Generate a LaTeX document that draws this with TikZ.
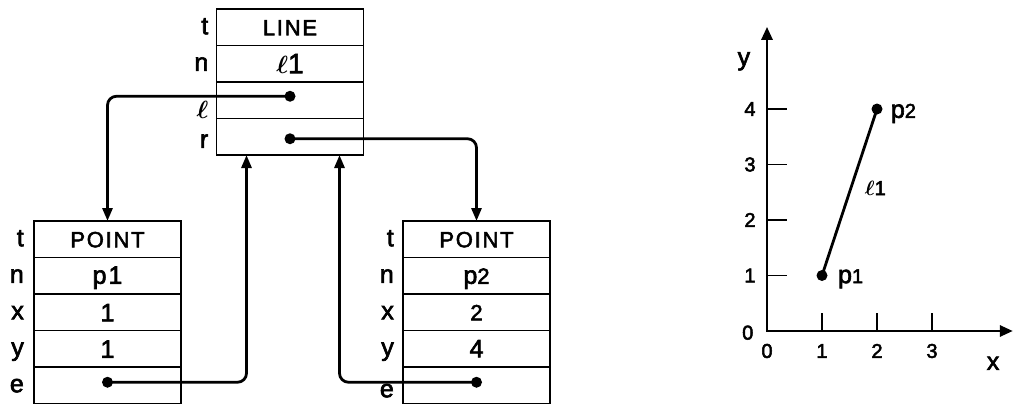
\documentclass[tikz,border=0pt]{standalone}
\usepackage{bm}
\usepackage{fontspec}
\setsansfont{Liberation Sans}[LetterSpace=8, FakeBold=2.5]
\usetikzlibrary{arrows.meta,positioning}

% sizes of the lettering: capitals, tall lower-case letters, the tallest strokes
\newcommand{\uc}{\fontsize{22}{24}\selectfont}
\newcommand{\lc}{\fontsize{25}{27}\selectfont}
\newcommand{\xl}{\fontsize{28}{30}\selectfont}

\begin{document}
\begin{tikzpicture}[
    x=1pt, y=-1pt,
    every node/.style={font=\sffamily\uc},
    cell/.style={draw, line width=1.2pt, minimum width=147pt, minimum height=36.5pt,
                 inner sep=0pt, outer sep=0pt, text height=16pt, text depth=0pt,
                 font=\sffamily\uc},
    tag/.style={inner sep=0pt, font=\sffamily\lc, text height=15pt, text depth=1pt},
    dot/.style={circle, fill, inner sep=0pt, minimum size=11pt},
    ptr/.style={-{Triangle[length=13pt,width=10pt]}, line width=2.8pt, rounded corners=9pt},
    axis/.style={{Triangle[length=13pt,width=11pt]}-{Triangle[length=13pt,width=11pt]},
                 line width=2.8pt},
    tick/.style={line width=1.6pt}
]
\useasboundingbox (0,0) rectangle (1014,404);

% ---------- LINE record ----------
\node[cell] (lnT) at (290,27.25) {LINE};
\node[cell, below=0pt of lnT, text height=19pt] (lnN) {\xl$\bm{\ell}$1};
\node[cell, below=0pt of lnN] (lnL) {};
\node[cell, below=0pt of lnL] (lnR) {};
\node[tag, left=8pt of lnT] {t};
\node[tag, left=8pt of lnN] {n};
\node[tag, left=8pt of lnL, yshift=-11pt] {$\bm{\ell}$};
\node[tag, left=8pt of lnR, yshift=-4pt] {r};
\node[dot] (lDot) at ([yshift=4pt]lnL.center) {};
\node[dot] (rDot) at ([yshift=-2pt]lnR.center) {};
\coordinate (lnIn1) at ([xshift=30pt]lnR.south west);
\coordinate (lnIn2) at ([xshift=-24pt]lnR.south east);

% ---------- POINT record p1 ----------
\node[cell] (p1T) at (107.5,239.25) {POINT};
\node[cell, below=0pt of p1T] (p1N) {\lc p1};
\node[cell, below=0pt of p1N, text height=18pt] (p1X) {\lc 1};
\node[cell, below=0pt of p1X, text height=18pt] (p1Y) {\lc 1};
\node[cell, below=0pt of p1Y] (p1E) {};
\node[tag, left=10pt of p1T] {t};
\node[tag, left=10pt of p1N] {n};
\node[tag, left=10pt of p1X] {x};
\node[tag, left=10pt of p1Y] {y};
\node[tag, left=10pt of p1E] {e};
\node[dot] (p1Dot) at ([yshift=3pt]p1E.center) {};

% ---------- POINT record p2 ----------
\node[cell] (p2T) at (476.5,239.25) {POINT};
\node[cell, below=0pt of p2T] (p2N) {{\lc p}2};
\node[cell, below=0pt of p2N] (p2X) {2};
\node[cell, below=0pt of p2X, text height=17pt] (p2Y) {\lc 4};
\node[cell, below=0pt of p2Y] (p2E) {};
\node[tag, left=9pt of p2T] {t};
\node[tag, left=9pt of p2N] {n};
\node[tag, left=9pt of p2X] {x};
\node[tag, left=9pt of p2Y] {y};
\node[tag, left=9pt of p2E, yshift=-5pt] {e};
\node[dot] (p2Dot) at ([yshift=3pt]p2E.center) {};

% ---------- pointers ----------
\draw[ptr] (lDot.center) -| (p1T.north);
\draw[ptr] (rDot.center) -| (p2T.north);
\draw[ptr] (p1Dot.center) -| (lnIn1);
\draw[ptr] (p2Dot.center) -| (lnIn2);

% ---------- the line in the plane ----------
\begin{scope}[shift={(767,331)}, x=55pt, y=55.5pt,
              every node/.style={font=\sffamily\fontsize{20}{22}\selectfont}]
\coordinate (org) at (0,0);
\coordinate (xEnd) at (4.47,0);
\coordinate (yEnd) at (0,5.48);
\draw[axis] (yEnd) -- (org) -- (xEnd);
\foreach \k in {1,2,3}
  \draw[tick] (\k,0) -- ++(0pt,18pt);
\foreach \k in {1,...,4}
  \draw[tick] (0,\k) -- ++(20pt,0pt);
\foreach \k in {0,...,3}
  \node (xl\k) at (\k,-0.36) {\k};
\foreach \k in {1,...,4}
  \node (yl\k) at (-0.31,\k) {\k};
\node (yl0) at (-0.35,-0.03) {0};
\node[font=\sffamily\lc] (xName) at (4.11,-0.58) {x};
\node[font=\sffamily\lc] (yName) at (-0.42,4.86) {y};

\node[dot] (pOne) at (1,1) {};
\node[dot] (pTwo) at (2,4) {};
\draw[line width=2.8pt] (pOne.center) -- (pTwo.center);
\node (pOneL) at (1.52,0.94) {{\lc p}1};
\node (pTwoL) at (2.48,3.92) {{\lc p}2};
\node (segL) at (1.97,2.58) {$\bm{\ell}$1};
\end{scope}

\end{tikzpicture}
\end{document}
